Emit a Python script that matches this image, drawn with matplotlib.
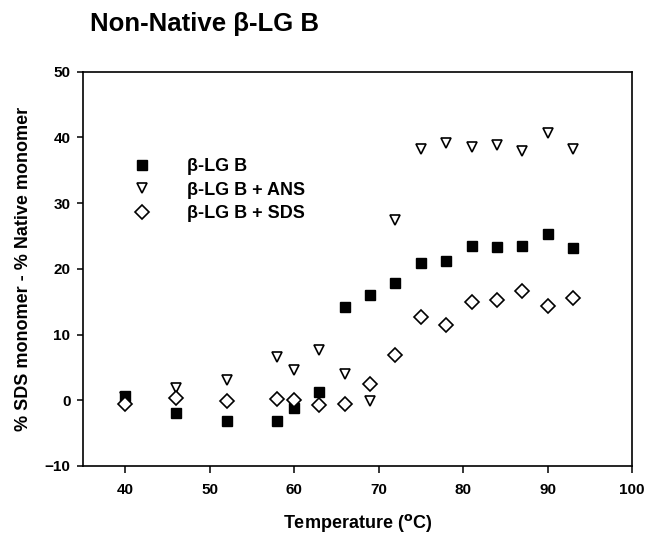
import matplotlib.pyplot as plt

plt.rcParams['font.family'] = ['Liberation Sans', 'DejaVu Sans']
plt.rcParams['font.weight'] = 'bold'
plt.rcParams['mathtext.default'] = 'regular'

# temperatures (°C)
temp = [40, 46, 52, 58, 60, 63, 66, 69, 72, 75, 78, 81, 84, 87, 90, 93]
# % SDS monomer - % Native monomer
lgb = [0.6, -2.0, -3.1, -3.2, -1.2, 1.3, 14.2, 16.0, 17.9, 20.9, 21.2, 23.5, 23.3, 23.5, 25.3, 23.1]
lgb_ans = [0.5, 1.8, 3.1, 6.6, 4.6, 7.6, 4.0, -0.1, 27.4, 38.2, 39.1, 38.5, 38.9, 37.9, 40.6, 38.3]
lgb_sds = [-0.6, 0.4, -0.1, 0.2, 0.0, -0.7, -0.6, 2.5, 6.9, 12.7, 11.5, 14.9, 15.2, 16.6, 14.3, 15.5]

xticks = [40, 50, 60, 70, 80, 90, 100]
yticks = [-10, 0, 10, 20, 30, 40, 50]

fig = plt.figure(figsize=(6.53, 5.35), dpi=100)
ax = fig.add_axes([0.1271, 0.1290, 0.8407, 0.7370])

ax.plot(temp, lgb_ans, linestyle='none', marker='v', ms=7.5, mfc='white', mec='black', mew=1.2,
        label='β-LG B + ANS', zorder=2)
ax.plot(temp, lgb, linestyle='none', marker='s', ms=7, mfc='black', mec='black',
        label='β-LG B', zorder=3)
ax.plot(temp, lgb_sds, linestyle='none', marker='D', ms=7, mfc='white', mec='black', mew=1.2,
        label='β-LG B + SDS', zorder=4)

ax.set_xlim(35, 100)
ax.set_ylim(-10, 50)
ax.set_xticks(xticks)
ax.set_yticks(yticks)
ax.tick_params(axis='x', direction='out', length=5, width=1.1, pad=7, labelsize=11)
ax.tick_params(axis='y', direction='out', length=4, width=1.1, pad=5, labelsize=11)
for lab in ax.get_xticklabels() + ax.get_yticklabels():
    lab.set_fontweight('bold')
for sp in ax.spines.values():
    sp.set_linewidth(1.2)

ax.set_xlabel(r'Temperature ($^{\mathrm{o}}$C)', fontsize=13, fontweight='bold', labelpad=11)
ax.set_ylabel('% SDS monomer - % Native monomer', fontsize=13, fontweight='bold', labelpad=9)

h, l = ax.get_legend_handles_labels()
order = [1, 0, 2]
ax.legend([h[i] for i in order], [l[i] for i in order], loc='upper left',
          bbox_to_anchor=(0.045, 0.822), frameon=False, borderpad=0.4, handlelength=2,
          handletextpad=1.5, labelspacing=0.36, prop={'weight': 'bold', 'size': 13})

fig.text(0.138, 0.955, 'Non-Native β-LG B', fontsize=18.5, fontweight='bold', va='center')

fig.savefig('out.png', dpi=100)
